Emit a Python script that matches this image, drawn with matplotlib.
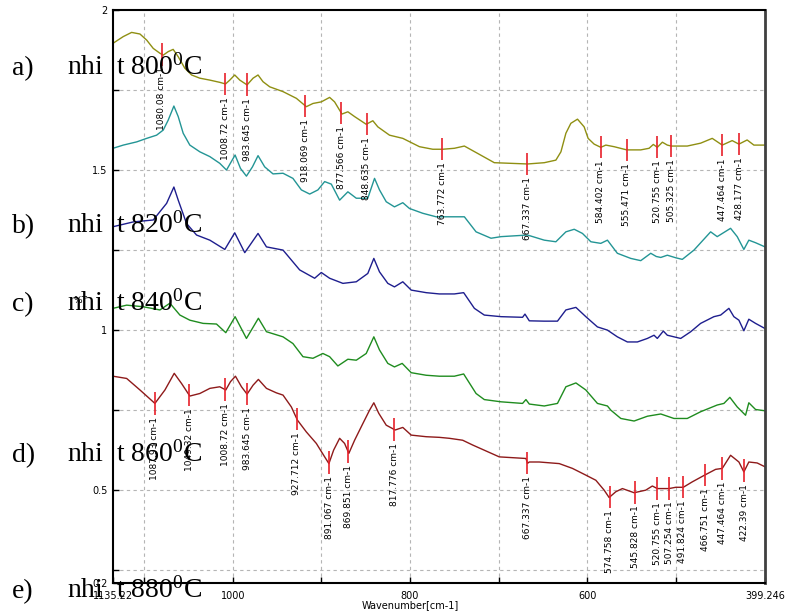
import numpy as np
import matplotlib
matplotlib.use('Agg')
import matplotlib.pyplot as plt
from matplotlib.ticker import FixedLocator

plt.rcParams['mathtext.default'] = 'regular'
plt.rcParams['mathtext.fontset'] = 'custom'
plt.rcParams['mathtext.rm'] = 'Liberation Serif'

# spectra: (wavenumber cm-1, transmittance)
spec_800 = [(1135.22, 1.896), (1123.6, 1.917), (1114.2, 1.930), (1104.8, 1.925), (1097.2, 1.906),
            (1089.8, 1.880), (1082.3, 1.865), (1078.5, 1.859), (1072.9, 1.870), (1067.3, 1.877),
            (1061.6, 1.854), (1054.1, 1.818), (1046.5, 1.797), (1037.2, 1.787), (1025.9, 1.781),
            (1014.7, 1.774), (1008.2, 1.769), (1003.4, 1.781), (997.8, 1.797), (992.1, 1.781),
            (983.9, 1.766), (977.1, 1.787), (971.5, 1.797), (965.9, 1.776), (958.3, 1.760),
            (943.3, 1.745), (928.2, 1.724), (917.0, 1.698), (909.5, 1.708), (900.1, 1.713),
            (890.7, 1.727), (885.1, 1.713), (876.8, 1.675), (870.1, 1.682), (862.5, 1.667),
            (849.4, 1.643), (841.9, 1.654), (836.3, 1.635), (823.1, 1.609), (808.1, 1.599),
            (789.3, 1.573), (774.3, 1.565), (763.0, 1.565), (749.9, 1.568), (738.6, 1.575),
            (723.6, 1.552), (704.8, 1.523), (686.0, 1.521), (667.3, 1.519), (648.4, 1.523),
            (635.3, 1.531), (629.6, 1.557), (624.0, 1.615), (618.4, 1.646), (610.9, 1.659),
            (603.4, 1.635), (598.9, 1.599), (592.1, 1.581), (584.6, 1.571), (578.9, 1.578),
            (569.6, 1.573), (555.3, 1.563), (539.5, 1.563), (530.1, 1.568), (525.3, 1.580),
            (520.8, 1.571), (515.1, 1.587), (509.5, 1.578), (505.0, 1.575), (487.0, 1.575),
            (471.9, 1.584), (458.8, 1.599), (447.5, 1.578), (441.9, 1.585), (436.3, 1.592),
            (428.7, 1.581), (419.4, 1.594), (411.8, 1.578), (399.246, 1.578)]
spec_820 = [(1135.22, 1.568), (1123.6, 1.578), (1108.5, 1.588), (1097.2, 1.599), (1086.0, 1.609),
            (1078.5, 1.625), (1072.9, 1.656), (1066.5, 1.700), (1061.6, 1.667), (1056.0, 1.615),
            (1048.5, 1.578), (1037.2, 1.557), (1025.9, 1.542), (1014.7, 1.521), (1007.1, 1.500),
            (997.4, 1.547), (991.3, 1.505), (984.6, 1.481), (977.8, 1.510), (971.5, 1.545),
            (964.0, 1.510), (954.6, 1.488), (943.3, 1.490), (932.1, 1.474), (922.6, 1.438),
            (913.2, 1.425), (903.9, 1.438), (896.3, 1.464), (888.8, 1.456), (879.4, 1.406),
            (870.1, 1.432), (860.6, 1.412), (847.6, 1.412), (840.0, 1.474), (834.4, 1.438),
            (826.8, 1.401), (817.5, 1.385), (808.1, 1.398), (800.6, 1.380), (785.6, 1.365),
            (770.5, 1.354), (753.6, 1.354), (738.6, 1.354), (725.4, 1.307), (708.5, 1.287),
            (697.2, 1.292), (667.3, 1.297), (648.4, 1.281), (635.3, 1.276), (624.0, 1.307),
            (614.6, 1.315), (605.3, 1.302), (595.8, 1.276), (584.6, 1.271), (577.1, 1.281),
            (565.9, 1.240), (550.8, 1.224), (539.5, 1.217), (528.2, 1.240), (522.0, 1.230),
            (516.9, 1.227), (509.5, 1.234), (500.0, 1.226), (492.6, 1.221), (479.4, 1.250),
            (460.6, 1.307), (453.2, 1.292), (438.1, 1.318), (430.6, 1.292), (423.1, 1.252),
            (417.5, 1.281), (409.9, 1.273), (399.246, 1.260)]
spec_840 = [(1135.22, 1.323), (1112.3, 1.338), (1089.8, 1.344), (1074.7, 1.396), (1066.5, 1.447),
            (1061.6, 1.406), (1052.2, 1.333), (1040.9, 1.297), (1025.9, 1.281), (1009.0, 1.252),
            (997.8, 1.304), (986.5, 1.242), (971.5, 1.302), (962.0, 1.260), (943.3, 1.250),
            (924.5, 1.188), (907.6, 1.162), (900.1, 1.180), (890.7, 1.162), (875.7, 1.146),
            (860.6, 1.151), (847.6, 1.177), (840.8, 1.224), (834.4, 1.182), (825.0, 1.146),
            (817.5, 1.135), (808.1, 1.151), (798.6, 1.125), (781.7, 1.117), (766.8, 1.113),
            (749.9, 1.113), (739.4, 1.117), (727.3, 1.068), (716.1, 1.047), (697.2, 1.042),
            (672.9, 1.040), (670.2, 1.050), (665.3, 1.029), (648.4, 1.028), (633.5, 1.028),
            (624.0, 1.063), (612.7, 1.071), (601.5, 1.042), (588.4, 1.010), (577.1, 1.000),
            (565.9, 0.979), (554.6, 0.963), (543.3, 0.963), (532.0, 0.974), (524.5, 0.984),
            (520.8, 0.974), (514.0, 0.997), (509.5, 0.984), (494.4, 0.974), (483.1, 0.995),
            (471.9, 1.021), (456.9, 1.042), (449.3, 1.047), (440.0, 1.068), (434.4, 1.042),
            (428.7, 1.031), (423.1, 0.998), (417.5, 1.034), (409.9, 1.021), (399.246, 1.005)]
spec_860 = [(1135.22, 1.068), (1119.8, 1.078), (1101.1, 1.073), (1082.3, 1.063), (1071.0, 1.084),
            (1059.7, 1.047), (1048.5, 1.031), (1033.5, 1.021), (1018.4, 1.019), (1007.9, 0.992),
            (997.4, 1.042), (984.6, 0.974), (971.1, 1.037), (962.0, 0.995), (943.3, 0.979),
            (932.1, 0.958), (920.8, 0.917), (909.5, 0.912), (898.3, 0.927), (890.7, 0.917),
            (881.4, 0.888), (870.1, 0.909), (860.6, 0.906), (849.4, 0.927), (840.8, 0.979),
            (834.4, 0.938), (825.0, 0.896), (817.5, 0.885), (808.8, 0.896), (798.6, 0.867),
            (781.7, 0.859), (766.8, 0.856), (749.9, 0.856), (739.4, 0.863), (725.4, 0.802),
            (716.1, 0.783), (697.2, 0.776), (672.9, 0.771), (669.1, 0.783), (665.3, 0.769),
            (648.4, 0.763), (633.5, 0.771), (624.0, 0.823), (612.7, 0.835), (601.5, 0.813),
            (588.4, 0.771), (577.1, 0.763), (573.3, 0.750), (562.0, 0.724), (547.0, 0.716),
            (532.0, 0.731), (516.9, 0.738), (502.0, 0.724), (487.0, 0.724), (471.9, 0.745),
            (453.2, 0.766), (445.6, 0.771), (438.9, 0.790), (430.6, 0.760), (421.2, 0.734),
            (417.5, 0.773), (409.9, 0.752), (399.246, 0.748)]
spec_880 = [(1135.22, 0.856), (1119.8, 0.849), (1104.8, 0.813), (1087.9, 0.771), (1076.6, 0.813),
            (1066.1, 0.865), (1057.8, 0.833), (1048.5, 0.794), (1037.2, 0.802), (1025.9, 0.818),
            (1014.7, 0.823), (1007.9, 0.813), (1002.6, 0.839), (997.0, 0.856), (990.2, 0.823),
            (983.9, 0.800), (977.1, 0.828), (971.1, 0.846), (962.0, 0.818), (950.8, 0.804),
            (943.3, 0.797), (933.9, 0.760), (927.1, 0.719), (917.0, 0.682), (905.7, 0.646),
            (896.3, 0.604), (891.5, 0.583), (886.2, 0.625), (879.4, 0.662), (873.8, 0.646),
            (869.0, 0.615), (862.5, 0.656), (853.2, 0.708), (845.6, 0.750), (840.8, 0.773),
            (835.2, 0.740), (826.8, 0.703), (816.7, 0.688), (808.1, 0.696), (798.6, 0.672),
            (781.7, 0.667), (766.8, 0.665), (755.5, 0.662), (740.5, 0.656), (729.2, 0.641),
            (699.2, 0.604), (669.1, 0.599), (667.3, 0.584), (665.3, 0.588), (654.1, 0.588),
            (631.5, 0.583), (616.6, 0.568), (601.5, 0.547), (590.2, 0.531), (580.8, 0.500),
            (575.2, 0.477), (567.7, 0.495), (560.2, 0.505), (547.0, 0.492), (533.9, 0.500),
            (526.4, 0.513), (520.8, 0.505), (507.6, 0.505), (500.0, 0.509), (491.5, 0.509),
            (481.3, 0.526), (467.4, 0.547), (455.0, 0.565), (447.5, 0.568), (438.1, 0.609),
            (428.7, 0.588), (423.1, 0.557), (417.5, 0.588), (408.1, 0.585), (399.246, 0.573)]

peaks_800 = ['1080.08', '1008.72', '983.645', '918.069', '877.566', '848.635', '763.772',
             '667.337', '584.402', '555.471', '520.755', '505.325', '447.464', '428.177']
peaks_880 = ['1087.93', '1049.32', '1008.72', '983.645', '927.712', '891.067', '869.851',
             '817.776', '667.337', '574.758', '545.828', '520.755', '507.254', '491.824',
             '466.751', '447.464', '422.39']

tags = ['a)', 'b)', 'c)', 'd)', 'e)']
temps = ['800', '820', '840', '860', '880']

colors = ['#8f8f12', '#239595', '#1e1e8e', '#1f8c1f', '#8e1a1a']
specs = [spec_800, spec_820, spec_840, spec_860, spec_880]

fig = plt.figure(figsize=(7.85, 6.13), dpi=100)
ax = fig.add_axes([113/785, 1-583/613, 652/785, 573/613])

xmin, xmax = 1135.22, 399.246
ymin, ymax = 0.21, 2.0

for g in range(500, 1101, 100):
    ax.axvline(g, color='#b5b5b5', ls=(0, (3, 3)), lw=0.8, zorder=0)
for g in [0.25, 0.5, 0.75, 1.0, 1.25, 1.5, 1.75]:
    ax.axhline(g, color='#b5b5b5', ls=(0, (3, 3)), lw=0.8, zorder=0)

for sp, c in zip(specs, colors):
    arr = np.array(sp)
    ax.plot(arr[:, 0], arr[:, 1], color=c, lw=1.0, zorder=2)

def mark_peaks(sp, peaks):
    arr = np.array(sp)[::-1]
    for p in peaks:
        w = float(p)
        t = np.interp(w, arr[:, 0], arr[:, 1])
        ax.vlines(w, t - 0.035, t + 0.035, color='#e8202a', lw=1.2, zorder=3)
        ax.text(w, t - 0.041, p + ' cm-1', rotation=90, ha='center', va='top',
                fontsize=6.5, family='DejaVu Sans', color='black', zorder=4)

mark_peaks(spec_800, peaks_800)
mark_peaks(spec_880, peaks_880)

ax.set_xlim(xmin, xmax)
ax.set_ylim(ymin, ymax)
ax.xaxis.set_major_locator(FixedLocator([xmin, 1000, 800, 600, xmax]))
ax.xaxis.set_minor_locator(FixedLocator([1100, 900, 700, 500]))
ax.set_xticklabels(['1135.22', '1000', '800', '600', '399.246'])
ax.yaxis.set_major_locator(FixedLocator([ymin, 0.5, 1.0, 1.5, 2.0]))
ax.yaxis.set_minor_locator(FixedLocator([0.25, 0.75, 1.25, 1.75]))
ax.set_yticklabels(['0.2', '0.5', '1', '1.5', '2'])
ax.tick_params(which='both', direction='in', length=4, width=1, labelsize=7, color='black')
ax.tick_params(axis='x', pad=6)
ax.tick_params(axis='y', pad=4)
for s in ax.spines.values():
    s.set_linewidth(1.5)
ax.spines['right'].set_color('#404040')
ax.spines['right'].set_linewidth(2)

fig.text(410/785, 1-605/613, 'Wavenumber[cm-1]', ha='center', va='center', fontsize=7)
fig.text(80/785, 1-300/613, '%T', ha='center', va='center', fontsize=6.5)

baselines = [75, 233, 311, 462, 598]
for tag, tp, b in zip(tags, temps, baselines):
    fig.text(12/785, 1-b/613, tag, ha='left', va='baseline', fontsize=20,
             family='Liberation Serif', zorder=10)
    fig.text(67/785, 1-b/613, 'nhi  t ' + tp + '$^0$C', ha='left', va='baseline', fontsize=20,
             family='Liberation Serif', zorder=10)

plt.savefig('out.png', dpi=100)
